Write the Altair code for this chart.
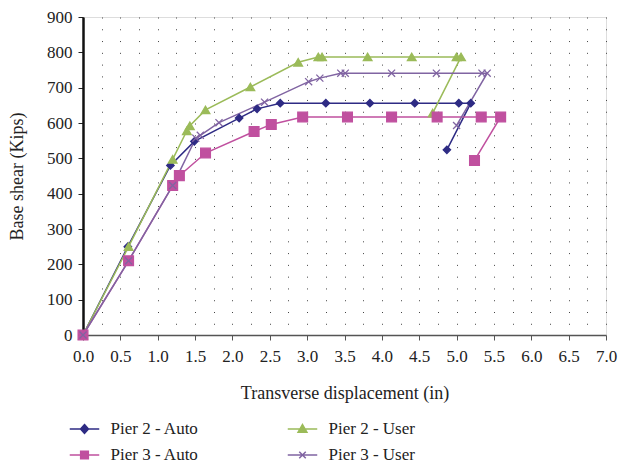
import altair as alt
import pandas as pd

series = ["Pier 2 - Auto", "Pier 2 - User", "Pier 3 - Auto", "Pier 3 - User"]
colors = ["#2e2b84", "#9bbb59", "#c0509f", "#8064a2"]

p2a_x = [0, 0.6, 1.17, 1.49, 2.09, 2.33, 2.64, 3.25, 3.84, 4.44, 5.03, 5.19, 4.87]
p2a_y = [0, 250, 480, 548, 614, 640, 656, 656, 656, 656, 656, 656, 524]

p2u_x = [0, 0.61, 1.2, 1.39, 1.43, 1.64, 2.24, 2.88, 3.15, 3.2, 3.81, 4.40, 5.0, 5.06, 4.68]
p2u_y = [0, 250, 497, 578, 592, 637, 702, 772, 787, 787, 787, 787, 787, 787, 628]

p3a_x = [0, 0.61, 1.2, 1.29, 1.64, 2.29, 2.52, 2.94, 3.54, 4.13, 4.74, 5.33, 5.59, 5.24]
p3a_y = [0, 210, 423, 451, 515, 576, 596, 617, 617, 617, 617, 617, 617, 494]

p3u_x = [0, 0.61, 1.2, 1.51, 1.57, 1.82, 2.43, 3.02, 3.17, 3.45, 3.51, 4.13, 4.73, 5.34, 5.41, 5.0]
p3u_y = [0, 210, 423, 557, 565, 601, 659, 717, 727, 741, 741, 741, 741, 741, 741, 593]

x_ticks = [i * 0.25 for i in range(29)]
y_ticks = [0, 100, 200, 300, 400, 500, 600, 700, 800, 900]

rows = []
for name, xs, ys in zip(series, [p2a_x, p2u_x, p3a_x, p3u_x], [p2a_y, p2u_y, p3a_y, p3u_y]):
    for i, (xv, yv) in enumerate(zip(xs, ys)):
        rows.append({"series": name, "i": i, "x": xv, "y": yv})
df = pd.DataFrame(rows)

FONT = "Liberation Serif"
color_scale = alt.Scale(domain=series, range=colors)

x_enc = alt.X(
    "x:Q",
    scale=alt.Scale(domain=[0, 7], nice=False, zero=False),
    axis=alt.Axis(
        values=x_ticks,
        title="Transverse displacement (in)",
        labelExpr="datum.value % 0.5 === 0 ? format(datum.value, '.1f') : ''",
        labelOverlap=False, labelFlush=False,
        labelFont=FONT, labelFontSize=17, labelColor="#222",
        titleFont=FONT, titleFontSize=18, titleFontWeight="normal", titleColor="#222",
        titlePadding=20, labelPadding=8,
        tickColor="#555", tickSize=5,
        tickOpacity={"condition": {"test": "datum.value % 0.5 !== 0", "value": 0}, "value": 1},
        domainColor="#555", domainWidth=1.5,
        grid=True, gridColor="#444", gridDash=[1, 10.78], gridWidth=1,
    ),
)
y_enc = alt.Y(
    "y:Q",
    scale=alt.Scale(domain=[0, 900], nice=False),
    axis=alt.Axis(
        values=y_ticks,
        title="Base shear (Kips)",
        labelFont=FONT, labelFontSize=17, labelColor="#222",
        titleFont=FONT, titleFontSize=18, titleFontWeight="normal", titleColor="#222",
        titlePadding=20, labelPadding=6,
        tickColor="#222", tickSize=5,
        domainColor="#111", domainWidth=2.5,
        grid=False,
    ),
)

base = alt.Chart(df)

lines = base.mark_line(strokeWidth=1.5).encode(
    x=x_enc, y=y_enc,
    color=alt.Color("series:N", scale=color_scale, legend=None),
    order=alt.Order("i:Q"),
)

xpath = "M-1,-1L1,1M-1,1L1,-1"
point_shapes = ["diamond", "triangle-up", "square", xpath]
point_sizes = [55, 75, 95, 50]
point_layers = []
for name, col, shp, sz in zip(series, colors, point_shapes, point_sizes):
    point_layers.append(
        base.transform_filter(alt.datum.series == name)
        .mark_point(shape=shp, size=sz, stroke=col, fill=col, fillOpacity=1, strokeWidth=1.3, opacity=1)
        .encode(x=x_enc, y=y_enc)
    )

plot = alt.layer(lines, *point_layers)

# Legend: line + marker glyphs and labels, two columns
legend_paths = [
    "M-1,0L1,0M0,-0.3L0.27,0L0,0.3L-0.27,0Z",
    "M-1,0L1,0M0,-0.3L0.3,0.22L-0.3,0.22Z",
    "M-1,0L1,0M-0.26,-0.26L0.26,-0.26L0.26,0.26L-0.26,0.26Z",
    "M-1,0L1,0M-0.22,-0.22L0.22,0.22M-0.22,0.22L0.22,-0.22",
]
legend_df = pd.DataFrame({
    "series": series,
    "col": [k % 2 for k in range(len(series))],
    "row": [k // 2 for k in range(len(series))],
})
leg_base = alt.Chart(legend_df)
leg_x = alt.X("col:Q", scale=alt.Scale(domain=[0, 1], range=[1.5, 219.5]), axis=None)
leg_y = alt.Y("row:Q", scale=alt.Scale(domain=[0, 1], range=[412, 438]), axis=None)

leg_sym = leg_base.mark_point(filled=False, size=870, strokeWidth=1.5, opacity=1, fillOpacity=1).encode(
    x=leg_x, y=leg_y,
    stroke=alt.Stroke("series:N", scale=color_scale, legend=None),
    fill=alt.Fill("series:N", scale=color_scale, legend=None),
    shape=alt.Shape("series:N", scale=alt.Scale(domain=series, range=legend_paths), legend=None),
)
leg_txt = leg_base.mark_text(align="left", baseline="middle", dx=26, font=FONT, fontSize=17, color="#222").encode(
    x=leg_x, y=leg_y, text="series:N",
)
legend = alt.layer(leg_sym, leg_txt)

chart = (
    alt.layer(plot, legend)
    .resolve_scale(x="independent", y="independent")
    .properties(
        width=523, height=318,
        autosize=alt.AutoSizeParams(type="none"),
        padding={"left": 75, "top": 9, "right": 12, "bottom": 127},
    )
    .configure_view(stroke="#555", strokeWidth=1.5)
    .configure(background="white")
)

chart.save("out.html", embed_options={"renderer": "svg", "actions": False})
